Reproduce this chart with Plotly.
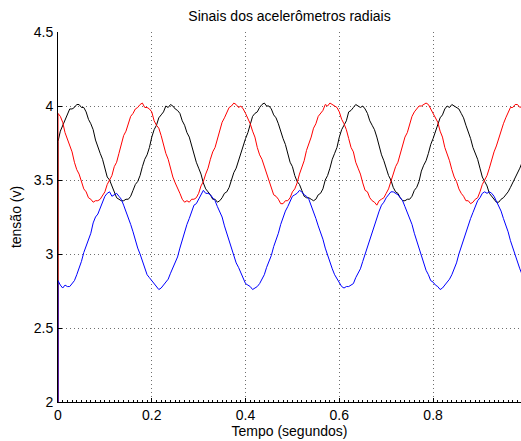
import plotly.graph_objects as go

# sampling times (s): start-up sample at t=0, then one sample every 5 ms
t_amostras = [round(i * 0.005, 3) for i in range(200)]
t = [0.0] + t_amostras

# values (V); first entry is the start-up value below the axis
preto = [0.0,
    3.76, 3.83, 3.87, 3.90, 3.95, 3.98, 3.98, 3.99, 4.01, 4.01, 3.99, 3.99, 3.96, 3.91, 3.88, 3.84, 3.77, 3.72, 3.68, 3.64,
    3.57, 3.52, 3.50, 3.46, 3.41, 3.38, 3.37, 3.36, 3.36, 3.37, 3.37, 3.39, 3.43, 3.47, 3.49, 3.53, 3.59, 3.64, 3.67, 3.72,
    3.79, 3.84, 3.87, 3.92, 3.94, 3.96, 4.00, 3.99, 4.01, 4.00, 3.98, 3.97, 3.95, 3.90, 3.87, 3.82, 3.79, 3.73, 3.69, 3.62,
    3.58, 3.54, 3.48, 3.44, 3.42, 3.40, 3.37, 3.37, 3.35, 3.36, 3.38, 3.41, 3.42, 3.45, 3.50, 3.55, 3.58, 3.63, 3.69, 3.74,
    3.78, 3.82, 3.88, 3.93, 3.95, 3.96, 3.99, 4.01, 4.02, 4.00, 4.00, 3.98, 3.94, 3.92, 3.88, 3.82, 3.78, 3.74, 3.68, 3.62,
    3.59, 3.53, 3.49, 3.47, 3.43, 3.39, 3.38, 3.38, 3.37, 3.36, 3.37, 3.40, 3.41, 3.44, 3.50, 3.53, 3.58, 3.64, 3.68, 3.72,
    3.79, 3.84, 3.87, 3.90, 3.96, 3.97, 3.99, 4.01, 4.00, 3.99, 4.00, 3.98, 3.95, 3.90, 3.87, 3.84, 3.79, 3.72, 3.67, 3.63,
    3.58, 3.53, 3.50, 3.45, 3.42, 3.41, 3.38, 3.36, 3.36, 3.37, 3.37, 3.39, 3.43, 3.45, 3.49, 3.56, 3.60, 3.63, 3.68, 3.74,
    3.78, 3.83, 3.88, 3.92, 3.94, 3.98, 4.00, 3.99, 4.01, 4.00, 3.99, 3.98, 3.95, 3.92, 3.87, 3.83, 3.78, 3.72, 3.68, 3.64,
    3.58, 3.52, 3.49, 3.46, 3.41, 3.39, 3.37, 3.35, 3.35, 3.37, 3.38, 3.40, 3.42, 3.45, 3.48, 3.52, 3.55, 3.58, 3.62, 3.66]

vermelho = [0.0,
    3.95, 3.93, 3.89, 3.82, 3.78, 3.74, 3.69, 3.62, 3.57, 3.54, 3.49, 3.44, 3.42, 3.38, 3.37, 3.35, 3.36, 3.36, 3.37, 3.40,
    3.42, 3.47, 3.50, 3.53, 3.59, 3.62, 3.68, 3.75, 3.80, 3.83, 3.88, 3.93, 3.95, 3.98, 3.99, 4.01, 4.02, 3.99, 3.99, 3.98,
    3.96, 3.90, 3.87, 3.85, 3.80, 3.73, 3.68, 3.64, 3.58, 3.52, 3.48, 3.45, 3.41, 3.37, 3.35, 3.36, 3.35, 3.37, 3.37, 3.38,
    3.41, 3.46, 3.49, 3.54, 3.58, 3.64, 3.69, 3.72, 3.78, 3.84, 3.89, 3.92, 3.96, 3.99, 4.00, 4.02, 4.01, 3.99, 4.00, 3.98,
    3.95, 3.92, 3.88, 3.83, 3.79, 3.72, 3.67, 3.64, 3.59, 3.54, 3.50, 3.44, 3.40, 3.39, 3.37, 3.34, 3.34, 3.36, 3.36, 3.38,
    3.42, 3.44, 3.48, 3.54, 3.58, 3.63, 3.70, 3.74, 3.79, 3.85, 3.88, 3.93, 3.95, 3.97, 4.01, 4.00, 4.02, 4.01, 4.00, 3.99,
    3.96, 3.91, 3.88, 3.84, 3.78, 3.72, 3.69, 3.62, 3.58, 3.54, 3.48, 3.43, 3.42, 3.38, 3.36, 3.35, 3.33, 3.36, 3.37, 3.38,
    3.41, 3.44, 3.49, 3.55, 3.59, 3.62, 3.68, 3.74, 3.79, 3.82, 3.87, 3.93, 3.96, 3.98, 4.00, 4.00, 4.01, 4.02, 4.01, 3.98,
    3.95, 3.93, 3.89, 3.83, 3.79, 3.72, 3.68, 3.63, 3.57, 3.52, 3.49, 3.44, 3.41, 3.39, 3.36, 3.36, 3.34, 3.35, 3.37, 3.38,
    3.42, 3.47, 3.50, 3.53, 3.58, 3.64, 3.69, 3.73, 3.78, 3.84, 3.88, 3.92, 3.95, 3.99, 3.99, 4.01, 4.01, 3.99, 4.00, 4.00]

azul = [0.0,
    2.82, 2.79, 2.77, 2.79, 2.78, 2.78, 2.80, 2.82, 2.86, 2.90, 2.95, 3.01, 3.05, 3.10, 3.14, 3.21, 3.25, 3.27, 3.31, 3.36,
    3.39, 3.41, 3.42, 3.39, 3.40, 3.41, 3.39, 3.37, 3.33, 3.29, 3.24, 3.20, 3.15, 3.09, 3.04, 3.00, 2.95, 2.91, 2.86, 2.84,
    2.82, 2.80, 2.78, 2.76, 2.77, 2.79, 2.81, 2.83, 2.87, 2.91, 2.94, 2.98, 3.04, 3.10, 3.15, 3.20, 3.24, 3.29, 3.33, 3.34,
    3.37, 3.41, 3.43, 3.41, 3.41, 3.40, 3.38, 3.36, 3.32, 3.29, 3.25, 3.19, 3.14, 3.10, 3.05, 2.99, 2.94, 2.91, 2.87, 2.83,
    2.80, 2.79, 2.78, 2.76, 2.77, 2.78, 2.80, 2.83, 2.86, 2.91, 2.95, 2.99, 3.05, 3.09, 3.14, 3.20, 3.25, 3.29, 3.32, 3.36,
    3.39, 3.40, 3.41, 3.43, 3.42, 3.40, 3.39, 3.37, 3.33, 3.28, 3.24, 3.19, 3.15, 3.10, 3.04, 2.99, 2.95, 2.90, 2.86, 2.83,
    2.81, 2.78, 2.77, 2.78, 2.78, 2.79, 2.80, 2.84, 2.87, 2.90, 2.95, 3.00, 3.04, 3.09, 3.15, 3.19, 3.24, 3.29, 3.33, 3.35,
    3.38, 3.40, 3.42, 3.42, 3.41, 3.40, 3.38, 3.36, 3.32, 3.28, 3.25, 3.20, 3.14, 3.09, 3.05, 2.99, 2.94, 2.89, 2.86, 2.82,
    2.81, 2.79, 2.78, 2.76, 2.77, 2.79, 2.81, 2.83, 2.86, 2.90, 2.94, 3.00, 3.05, 3.10, 3.15, 3.19, 3.24, 3.28, 3.32, 3.36,
    3.38, 3.41, 3.42, 3.41, 3.42, 3.41, 3.39, 3.36, 3.33, 3.29, 3.24, 3.20, 3.15, 3.09, 3.04, 2.99, 2.94, 2.90, 2.86, 2.83]

titulo = "Sinais dos acelerômetros radiais"
rotulo_x = "Tempo (segundos)"
rotulo_y = "tensão (v)"

fig = go.Figure()
for serie, cor in [(preto, "#000000"), (vermelho, "#ff0000"), (azul, "#0000ff")]:
    fig.add_trace(go.Scatter(x=t, y=serie, mode="lines",
                             line=dict(color=cor, width=1), hoverinfo="skip"))

grid = dict(showgrid=True, gridcolor="#6e6e6e", gridwidth=1, griddash="1px,3px",
            zeroline=False, showline=True, linecolor="#000000", linewidth=1,
            ticks="inside", ticklen=4, tickcolor="#000000",
            tickfont=dict(size=14, color="#000000"))

W, H = 521, 441
fig.update_layout(
    width=W, height=H,
    margin=dict(l=58, r=0, t=32, b=39),
    paper_bgcolor="white", plot_bgcolor="white",
    showlegend=False,
    font=dict(family="Liberation Sans, Arial, sans-serif", size=14, color="#000000"),
    title=dict(text=titulo, x=0.5, xref="paper", xanchor="center",
               y=1 - 16.5 / H, yref="container", yanchor="middle",
               font=dict(size=14, color="#000000")),
    xaxis=dict(range=[0, 0.9875], tick0=0, dtick=0.2, automargin=False,
               minor=dict(dtick=0.01, tick0=0, ticks="inside", ticklen=2,
                          tickcolor="#000000", showgrid=False),
               title=dict(text=rotulo_x, standoff=0, font=dict(size=14)),
               **grid),
    yaxis=dict(range=[2, 4.5], tick0=2, dtick=0.5, automargin=False,
               ticklabelstandoff=1,
               title=dict(text=rotulo_y, standoff=8, font=dict(size=14)),
               **grid),
)

# place the figure flush with the window corner (no default page margin / scrollbars)
ajuste_pagina = ("document.documentElement.style.overflow='hidden';"
                 "document.body.style.margin='0';"
                 "document.body.style.overflow='hidden';")

fig.write_html("out.html", post_script=ajuste_pagina,
               config={"displayModeBar": False, "staticPlot": True})
